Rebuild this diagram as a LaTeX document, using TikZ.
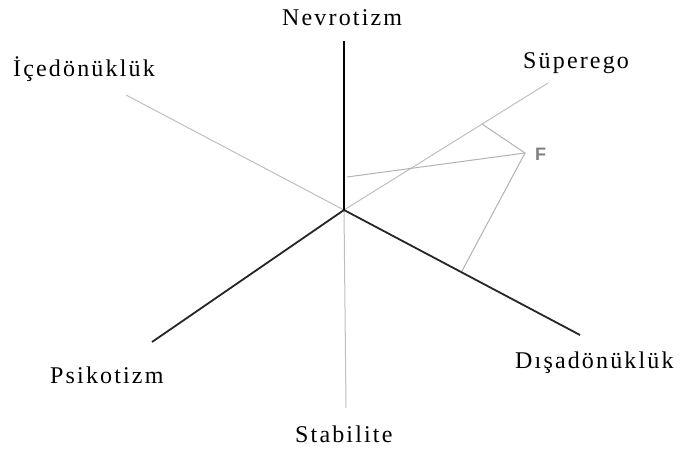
\documentclass[tikz,border=0pt]{standalone}
\usepackage{fontspec}
\setmainfont{Liberation Serif}[LetterSpace=9]
\newfontfamily\flabel{Liberation Sans}
\begin{document}
\begin{tikzpicture}[x=1pt,y=-1pt,
  axisdark/.style={line width=1.8pt,draw=black!85},
  axisblack/.style={line width=1.8pt,draw=black},
  axislight/.style={line width=1pt,draw=black!25},
  projline/.style={line width=1pt,draw=black!30},
  lbl/.style={anchor=base west,inner sep=0pt,font=\fontsize{24}{28}\selectfont,text=black}]
\useasboundingbox (0,0) rectangle (684,450);
\coordinate (C) at (344,210);
\coordinate (Nend) at (344,41);
\coordinate (Send) at (346,408);
\coordinate (Iend) at (126,95);
\coordinate (SPend) at (548,83);
\coordinate (Pend) at (152,342);
\coordinate (Dend) at (580,335);
\coordinate (F) at (525,153);
\coordinate (Fsp) at (482,124);
\coordinate (Fn) at (347,177);
\coordinate (Fd) at (462,271);
% light axes
\draw[axislight] (C) -- (Iend);
\draw[axislight] (C) -- (SPend);
\draw[axislight] (C) -- (Send);
% projections of F
\draw[projline] (Fsp) -- (F) -- (Fd);
\draw[projline] (F) -- (Fn);
% dark axes
\draw[axisdark] (C) -- (Pend);
\draw[axisdark] (C) -- (Dend);
\draw[axisblack] (C) -- (Nend);
% labels
\node[lbl] (nev) at (282,25) {Nevrotizm};
\node[lbl] (ice) at (13,76) {İçedönüklük};
\node[lbl] (sup) at (523,68) {Süperego};
\node[lbl] (dis) at (515,368) {Dışadönüklük};
\node[lbl] (psi) at (50,383) {Psikotizm};
\node[lbl] (sta) at (295,442) {Stabilite};
\node[anchor=base west,inner sep=0pt,font=\flabel\bfseries\fontsize{18}{20}\selectfont,text=black!50] (flab) at (535,160) {F};
\end{tikzpicture}
\end{document}
